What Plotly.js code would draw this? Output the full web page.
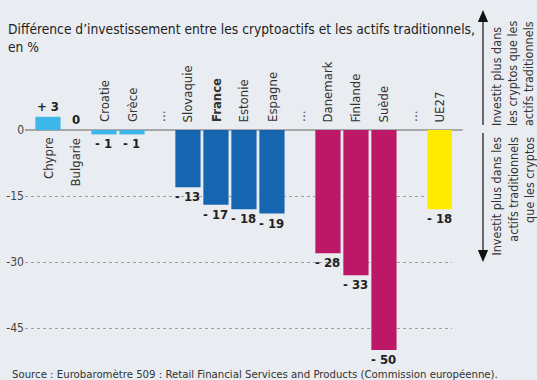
<!DOCTYPE html>
<html>
<head>
<meta charset="utf-8">
<script src="https://cdn.plot.ly/plotly-3.0.1.min.js"></script>
<style>html,body{margin:0;padding:0;background:#e9ecf0;}#chart{width:537px;height:380px;}</style>
</head>
<body>
<div id="chart"></div>
<script>
// Data
const pays = ['Chypre', 'Bulgarie', 'Croatie', 'Grèce', '…', 'Slovaquie', 'France', 'Estonie', 'Espagne', '…', 'Danemark', 'Finlande', 'Suède', '…', 'UE27'];
const valeurs = [3, 0, -1, -1, null, -13, -17, -18, -19, null, -28, -33, -50, null, -18];
const groupes = ['clair', 'clair', 'clair', 'clair', null, 'fonce', 'fonce', 'fonce', 'fonce', null, 'nord', 'nord', 'nord', null, 'ue'];
const yTicks = [0, -15, -30, -45];
const yTickLabels = ['0', '-15', '-30', '-45'];

const couleurs = {clair: '#3db7ea', fonce: '#1565b1', nord: '#bd1768', ue: '#ffeb00'};
const FONT = 'Liberation Sans Narrow, DejaVu Sans Condensed, Roboto, sans-serif';

const idx = pays.map((_, i) => i);
const barColors = groupes.map(g => g ? couleurs[g] : 'rgba(0,0,0,0)');

const trace = {
  type: 'bar',
  x: idx,
  y: valeurs,
  width: 0.9,
  marker: {color: barColors, line: {width: 0}},
  hoverinfo: 'skip'
};

function fmt(v) {
  if (v > 0) return '+ ' + v;
  if (v < 0) return '- ' + Math.abs(v);
  return '0';
}

const annotations = [];
pays.forEach((p, i) => {
  const v = valeurs[i];
  if (v === null) {
    annotations.push({x: i, y: 0, xref: 'x', yref: 'y', text: '…', textangle: -90, showarrow: false,
      yanchor: 'bottom', yshift: 6, font: {family: FONT, size: 13, color: '#333'}});
    return;
  }
  const below = v >= 0;
  annotations.push({x: i, y: 0, xref: 'x', yref: 'y', text: p === 'France' ? '<b>' + p + '</b>' : p,
    textangle: -90, showarrow: false, yanchor: below ? 'top' : 'bottom', yshift: below ? -5 : 6,
    font: {family: FONT, size: 13, color: '#333'}});
  annotations.push({x: i, y: v, xref: 'x', yref: 'y', text: '<b>' + fmt(v) + '</b>', showarrow: false,
    yanchor: v >= 0 ? 'bottom' : 'top', yshift: v >= 0 ? 1 : 0,
    font: {family: FONT, size: 13, color: '#222'}});
});

// Title
annotations.push({xref: 'paper', yref: 'paper', x: -0.045, y: 1.31, xanchor: 'left', yanchor: 'top', align: 'left',
  text: 'Différence d’investissement entre les cryptoactifs et les actifs traditionnels,<br>en %', showarrow: false,
  font: {family: FONT, size: 13.7, color: '#1e1e1e'}});
// Source
annotations.push({xref: 'paper', yref: 'paper', x: -0.035, y: -0.022, xanchor: 'left', yanchor: 'top', align: 'left',
  text: 'Source : Eurobaromètre 509 : Retail Financial Services and Products (Commission européenne).', showarrow: false,
  font: {family: FONT, size: 11.3, color: '#333'}});

const AX = 1.0726;
const layout = {
  width: 537, height: 380,
  paper_bgcolor: '#e9ecf0', plot_bgcolor: '#e9ecf0',
  margin: {l: 25, r: 85, t: 100, b: 20},
  showlegend: false,
  xaxis: {range: [-0.82, 14.43], showticklabels: false, showgrid: false, zeroline: false, fixedrange: true},
  yaxis: {range: [-52.27, 6.82], tickvals: yTicks, ticktext: yTickLabels, showgrid: true, griddash: 'dot',
    gridcolor: '#a0a0a0', gridwidth: 1, zeroline: false, ticks: '', ticklen: 0,
    tickfont: {family: FONT, size: 12, color: '#444'}},
  annotations: annotations,
  shapes: [
    {type: 'line', xref: 'paper', yref: 'y', x0: 0, x1: 1.025, y0: 0, y1: 0, line: {color: '#666', width: 1}, layer: 'below'},
    {type: 'line', xref: 'paper', yref: 'paper', x0: AX, x1: AX, y0: 1.31, y1: 0.904, line: {color: '#111', width: 1.2}},
    {type: 'line', xref: 'paper', yref: 'paper', x0: AX, x1: AX, y0: 0.873, y1: 0.41, line: {color: '#111', width: 1.2}},
    {type: 'path', xref: 'paper', yref: 'paper', path: `M ${AX - 0.012} 1.300 L ${AX + 0.012} 1.300 L ${AX} 1.346 Z`, fillcolor: '#111', line: {width: 0}},
    {type: 'path', xref: 'paper', yref: 'paper', path: `M ${AX - 0.012} 0.423 L ${AX + 0.012} 0.423 L ${AX} 0.377 Z`, fillcolor: '#111', line: {width: 0}}
  ],
  font: {family: FONT}
};
// side notes
layout.annotations.push({xref: 'paper', yref: 'paper', x: 1.082, y: 0.892, xanchor: 'left', yanchor: 'bottom', textangle: -90, align: 'left',
  text: 'Investit plus dans<br>les cryptos que les<br>actifs traditionnels', showarrow: false,
  font: {family: FONT, size: 12.5, color: '#333'}});
layout.annotations.push({xref: 'paper', yref: 'paper', x: 1.082, y: 0.865, xanchor: 'left', yanchor: 'top', textangle: -90, align: 'right',
  text: 'Investit plus dans les<br>actifs traditionnels<br>que les cryptos', showarrow: false,
  font: {family: FONT, size: 12.5, color: '#333'}});

Plotly.newPlot('chart', [trace], layout, {displayModeBar: false, staticPlot: true});
</script>
</body>
</html>
